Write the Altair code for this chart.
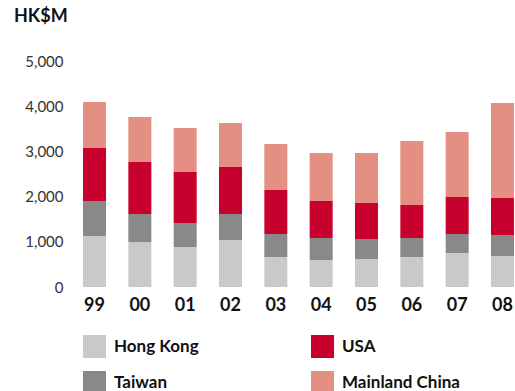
import altair as alt
import pandas as pd

years = ["99", "00", "01", "02", "03", "04", "05", "06", "07", "08"]
hong_kong = [1128, 996, 885, 1040, 664, 597, 619, 664, 752, 686]
taiwan = [775, 619, 531, 575, 509, 487, 443, 420, 421, 464]
usa = [1172, 1150, 1128, 1040, 973, 819, 796, 730, 818, 819]
mainland = [1018, 996, 974, 973, 1018, 1062, 1107, 1416, 1438, 2102]

series = [("Hong Kong", hong_kong), ("Taiwan", taiwan), ("USA", usa), ("Mainland China", mainland)]
rows = []
for idx, (name, vals) in enumerate(series):
    for y, v in zip(years, vals):
        rows.append({"year": y, "region": name, "value": v, "stack": idx})
df = pd.DataFrame(rows)

legend_domain = ["Hong Kong", "Taiwan", "USA", "Mainland China"]
legend_colors = ["#c8c9cb", "#898989", "#c8002d", "#e39083"]

FONT = "Lato"

chart = alt.Chart(df).mark_bar(size=23).encode(
    x=alt.X("year:N", sort=years, title=None,
            scale=alt.Scale(paddingInner=0.492, paddingOuter=0),
            axis=alt.Axis(labelAngle=0, ticks=False, domain=False, labelPadding=9,
                          labelFontSize=18, labelFontWeight="bold", labelColor="#111",
                          labelFont=FONT)),
    y=alt.Y("value:Q", title=None, stack="zero",
            scale=alt.Scale(domain=[0, 5000], nice=False),
            axis=alt.Axis(values=[0, 1000, 2000, 3000, 4000, 5000], format=",d",
                          grid=False, ticks=False, domain=False, labelPadding=20,
                          labelFontSize=15, labelColor="#333", labelFont=FONT)),
    color=alt.Color("region:N",
                    scale=alt.Scale(domain=legend_domain, range=legend_colors),
                    legend=alt.Legend(title=None, orient="none", legendX=0, legendY=274,
                                      columns=2, symbolType="square", symbolSize=529,
                                      symbolStrokeWidth=0, labelFontSize=17,
                                      labelFontWeight="bold", labelColor="#111",
                                      labelFont=FONT, labelOffset=8, columnPadding=112,
                                      rowPadding=13, padding=0)),
    order=alt.Order("stack:Q", sort="ascending"),
).properties(
    width=431,
    height=226,
    title=alt.TitleParams("HK$M", anchor="start", frame="group", dx=-69, offset=28,
                          fontSize=18, fontWeight="bold", font=FONT, color="#111"),
    autosize=alt.AutoSizeParams(type="none"),
    padding={"left": 83, "top": 61, "right": 1, "bottom": 104},
).configure_view(stroke=None)

chart.save("out.html", embed_options={"renderer": "svg", "actions": False})
